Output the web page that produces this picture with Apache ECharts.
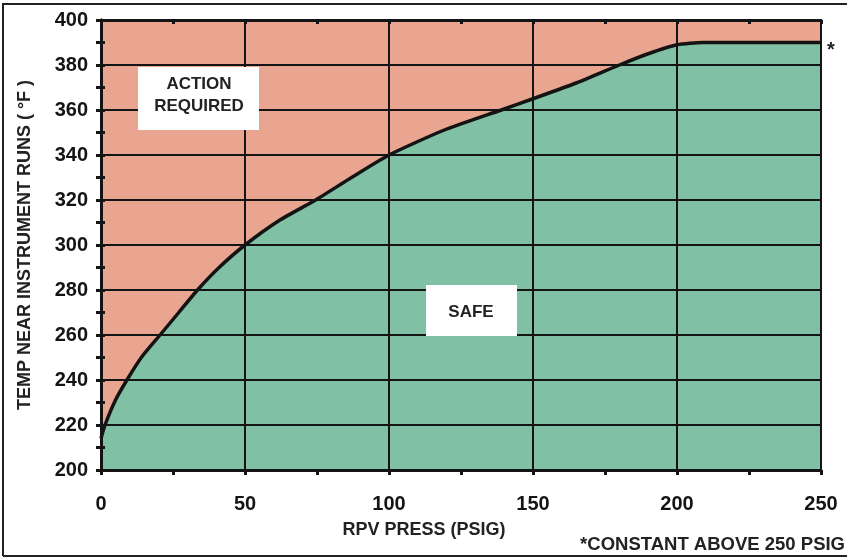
<!DOCTYPE html>
<html>
<head>
<meta charset="utf-8">
<script src="https://cdn.jsdelivr.net/npm/echarts@6/dist/echarts.min.js"></script>
<style>
html,body{margin:0;padding:0;background:#fff;}
#chart{width:847px;height:560px;}
</style>
</head>
<body>
<div id="chart"></div>
<script>
// Data
var pressure = [0, 1.4, 5, 9, 14, 20.5, 27, 33.5, 41, 50, 62, 74.5, 87, 100, 119, 139, 150, 165, 180, 190, 200, 209, 250];
var tempLimit = [214, 220, 231, 240, 250, 260, 270, 280, 290, 300, 311, 320, 330, 340, 351, 360, 365, 372, 380, 385, 389, 390, 390];
var xTicks = [0, 50, 100, 150, 200, 250];
var yTicks = [200, 220, 240, 260, 280, 300, 320, 340, 360, 380, 400];
var xTitle = 'RPV PRESS (PSIG)';
var yTitle = 'TEMP NEAR INSTRUMENT RUNS ( °F )';
var footnote = '*CONSTANT ABOVE 250 PSIG';
var zoneAbove = 'ACTION\nREQUIRED';
var zoneBelow = 'SAFE';

var FONT = '"Liberation Sans", Arial, sans-serif';
var chart = echarts.init(document.getElementById('chart'));
var series = pressure.map(function (p, i) { return [p, tempLimit[i]]; });

var INK = '#141414';
function makeX(overlay) {
  return {
    type: 'value', min: xTicks[0], max: xTicks[xTicks.length - 1], interval: 50,
    z: overlay ? 5 : 0,
    axisLine: { show: true, lineStyle: { color: INK, width: 3 } },
    axisLabel: overlay ? { show: false } : { color: INK, fontFamily: FONT, fontWeight: 'bold', fontSize: 20, margin: 24 },
    axisTick: { show: true, inside: overlay, length: overlay ? 4 : 5, lineStyle: { color: INK, width: 3 } },
    minorTick: { show: true, splitNumber: 2, length: overlay ? 4 : 5, lineStyle: { color: INK, width: 3 } },
    splitLine: { show: overlay, lineStyle: { color: INK, width: 2 } }
  };
}
function makeY(overlay) {
  return {
    type: 'value', min: yTicks[0], max: yTicks[yTicks.length - 1], interval: 20,
    position: 'left',
    z: overlay ? 5 : 0,
    axisLine: { show: true, lineStyle: { color: INK, width: 3 } },
    axisLabel: overlay ? { show: false } : { color: INK, fontFamily: FONT, fontWeight: 'bold', fontSize: 20, margin: 13 },
    axisTick: { show: true, inside: overlay, length: overlay ? 4 : 5, lineStyle: { color: INK, width: 3 } },
    minorTick: { show: true, splitNumber: 2, length: overlay ? 4 : 5, lineStyle: { color: INK, width: 3 } },
    splitLine: { show: overlay, lineStyle: { color: INK, width: 2 } }
  };
}

chart.setOption({
  animation: false,
  backgroundColor: '#ffffff',
  grid: {
    left: 101, right: 26, top: 20, bottom: 90,
    show: true, backgroundColor: '#E9A58F', borderColor: INK, borderWidth: 2
  },
  xAxis: [makeX(false), makeX(true)],
  yAxis: [makeY(false), makeY(true)],
  series: [{
    type: 'line',
    data: series,
    smooth: 0.2,
    symbol: 'none',
    z: 2,
    lineStyle: { width: 0, color: 'rgba(0,0,0,0)' },
    areaStyle: { color: '#80C1A6', opacity: 1, origin: 'start' }
  }, {
    type: 'line',
    data: series,
    smooth: 0.2,
    symbol: 'none',
    z: 8,
    lineStyle: { color: INK, width: 3.5 }
  }],
  graphic: [
    { type: 'rect', shape: { x: 138, y: 67, width: 121, height: 63 }, style: { fill: '#fff' }, z: 100 },
    { type: 'text', x: 199, y: 95, z: 101, style: { text: zoneAbove, font: 'bold 17px ' + FONT, fill: '#222', align: 'center', verticalAlign: 'middle', lineHeight: 22 } },
    { type: 'rect', shape: { x: 426, y: 285, width: 91, height: 51 }, style: { fill: '#fff' }, z: 100 },
    { type: 'text', x: 471, y: 312, z: 101, style: { text: zoneBelow, font: 'bold 17px ' + FONT, fill: '#222', align: 'center', verticalAlign: 'middle' } },
    { type: 'text', x: 831, y: 50, z: 101, style: { text: '*', font: 'bold 20px ' + FONT, fill: '#222', align: 'center', verticalAlign: 'middle' } },
    { type: 'text', x: 424, y: 530, z: 101, style: { text: xTitle, font: 'bold 18px ' + FONT, fill: '#222', align: 'center', verticalAlign: 'middle' } },
    { type: 'text', x: 845, y: 545, z: 101, style: { text: footnote, font: 'bold 18.5px ' + FONT, fill: '#222', align: 'right', verticalAlign: 'middle' } },
    { type: 'text', x: 25, y: 245, rotation: Math.PI / 2, z: 101, style: { text: yTitle, font: 'bold 18px ' + FONT, fill: '#222', align: 'center', verticalAlign: 'middle' } },
    { type: 'polyline', shape: { points: [[3, 556], [3, 4], [847, 4]] }, style: { stroke: '#222', lineWidth: 2, fill: null }, z: 50 },
    { type: 'line', shape: { x1: 3, y1: 556, x2: 847, y2: 556 }, style: { stroke: '#222', lineWidth: 2 }, z: 50 }
  ]
});
</script>
</body>
</html>
